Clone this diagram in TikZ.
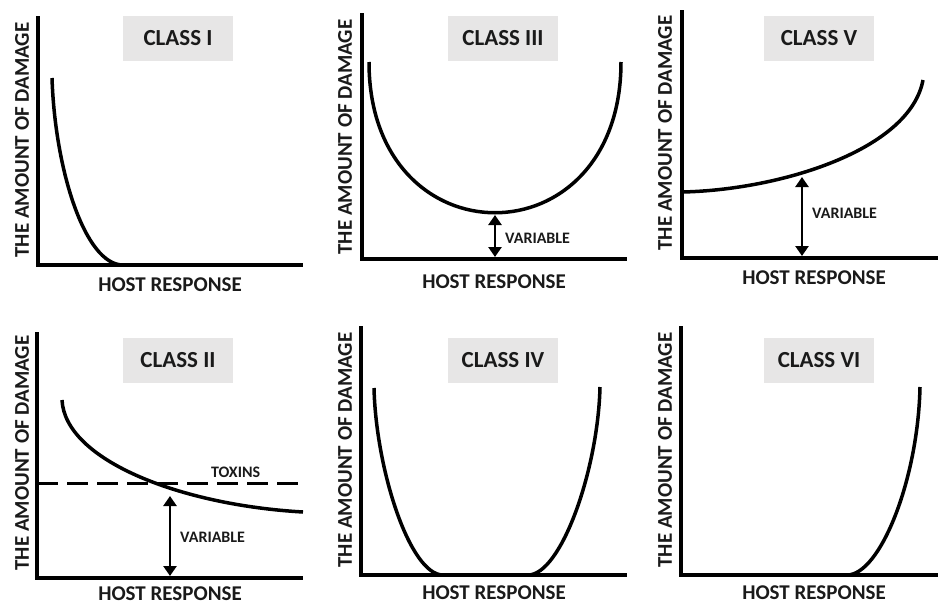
\documentclass[tikz,border=0pt]{standalone}
\usepackage{fontspec}
\setmainfont{Carlito}
\usetikzlibrary{arrows.meta}
\definecolor{boxgray}{HTML}{E7E6E6}
\definecolor{txt}{HTML}{1A1A1A}
\begin{document}
\begin{tikzpicture}[x=1pt,y=-1pt,
  axis/.style={line width=3.8pt, line join=miter},
  crv/.style={line width=3.5pt},
  titlebox/.style={fill=boxgray, minimum width=110pt, minimum height=45pt, inner sep=0pt, font=\fontsize{23}{27}\selectfont\bfseries, text=txt},
  xlab/.style={font=\fontsize{21}{25}\selectfont\bfseries, text=txt, inner sep=0pt},
  ylab/.style={xlab, rotate=90},
  small/.style={font=\fontsize{16}{19}\selectfont\bfseries, text=txt, inner sep=0pt, anchor=west},
  dbl/.style={line width=2.8pt, {Triangle[width=13pt,length=10pt]}-{Triangle[width=13pt,length=10pt]}},
  dashline/.style={line width=3pt, dash pattern=on 21pt off 9pt}
]
\useasboundingbox (0,0) rectangle (938,605);
\clip (0,0) rectangle (938,605);

% ---------- CLASS I ----------
\draw[axis] (38,16) -- (38,265) -- (303,265);
\draw[crv] (52,78) .. controls (55,170) and (85,265) .. (123,265);
\node[titlebox] (t1) at (178,38) {CLASS I};
\node[xlab] (x1) at (170,285) {HOST RESPONSE};
\node[ylab] (y1) at (22,140) {THE AMOUNT OF DAMAGE};

% ---------- CLASS III ----------
\draw[axis] (362,13) -- (362,259) -- (627,259);
\draw[crv] (369,62) .. controls (369,263) and (621,263) .. (621,62);
\node[titlebox] (t3) at (503,38) {CLASS III};
\node[xlab] (x3) at (494,282) {HOST RESPONSE};
\node[ylab] (y3) at (345,137) {THE AMOUNT OF DAMAGE};
\coordinate (a3t) at (495,215);
\coordinate (a3b) at (495,257);
\draw[dbl] (a3t) -- (a3b);
\node[small] (v3) at (505,238) {VARIABLE};

% ---------- CLASS V ----------
\draw[axis] (682,10) -- (682,258) -- (940,258);
\draw[crv] (682,192) .. controls (780,190) and (910,150) .. (923,80);
\node[titlebox] (t5) at (819,38) {CLASS V};
\node[xlab] (x5) at (814,278) {HOST RESPONSE};
\node[ylab] (y5) at (665,133) {THE AMOUNT OF DAMAGE};
\coordinate (a5t) at (802,177);
\coordinate (a5b) at (802,256);
\draw[dbl] (a5t) -- (a5b);
\node[small] (v5) at (812,213) {VARIABLE};

% ---------- CLASS II ----------
\draw[axis] (37,332) -- (37,578) -- (303,578);
\draw[dashline] (37,483) -- (303,483);
\draw[crv] (62,400) .. controls (65,460) and (180,505) .. (303,512);
\node[titlebox] (t2) at (178,360) {CLASS II};
\node[xlab] (x2) at (170,594) {HOST RESPONSE};
\node[ylab] (y2) at (22,453) {THE AMOUNT OF DAMAGE};
\node[small] (tx) at (211,472) {TOXINS};
\coordinate (a2t) at (170,496);
\coordinate (a2b) at (170,576);
\draw[dbl] (a2t) -- (a2b);
\node[small] (v2) at (180,537) {VARIABLE};

% ---------- CLASS IV ----------
\draw[axis] (361,326) -- (361,575) -- (627,575);
\draw[crv] (374,388) .. controls (376,470) and (410,575) .. (443,575)
  -- (528,575) .. controls (561,575) and (598,470) .. (600,387);
\node[titlebox] (t4) at (503,360) {CLASS IV};
\node[xlab] (x4) at (494,593) {HOST RESPONSE};
\node[ylab] (y4) at (345,450) {THE AMOUNT OF DAMAGE};

% ---------- CLASS VI ----------
\draw[axis] (681,326) -- (681,575) -- (940,575);
\draw[crv] (847,575) .. controls (880,575) and (918,480) .. (920,387);
\node[titlebox] (t6) at (819,360) {CLASS VI};
\node[xlab] (x6) at (814,593) {HOST RESPONSE};
\node[ylab] (y6) at (665,450) {THE AMOUNT OF DAMAGE};
\end{tikzpicture}
\end{document}
